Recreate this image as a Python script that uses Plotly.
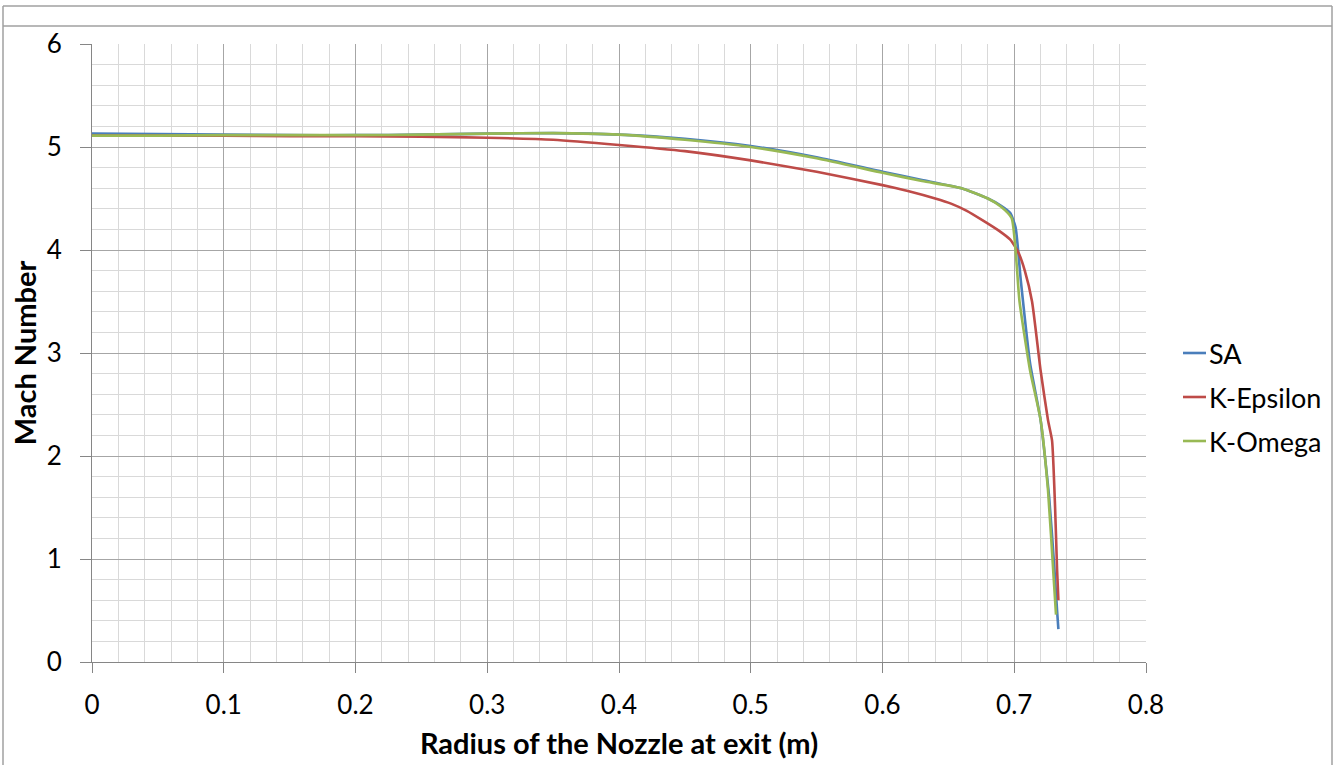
import plotly.graph_objects as go

sa_x = [0, 0.05, 0.1, 0.15, 0.2, 0.25, 0.3, 0.35, 0.4, 0.45, 0.5, 0.55, 0.6, 0.63, 0.66,
        0.68, 0.69, 0.697, 0.701, 0.705, 0.712, 0.72, 0.7265, 0.7305, 0.7325, 0.7335]
sa_y = [5.13, 5.125, 5.12, 5.115, 5.115, 5.12, 5.13, 5.135, 5.12, 5.08, 5.01, 4.9, 4.76, 4.68, 4.6,
        4.5, 4.43, 4.36, 4.22, 3.7, 2.9, 2.35, 1.6, 0.9, 0.5, 0.32]

ke_x = [0, 0.05, 0.1, 0.15, 0.2, 0.25, 0.3, 0.35, 0.4, 0.45, 0.5, 0.55, 0.6, 0.62, 0.64, 0.652,
        0.664, 0.677, 0.688, 0.697, 0.703, 0.708, 0.7135, 0.72, 0.7256, 0.7287, 0.731, 0.7325, 0.7335]
ke_y = [5.11, 5.11, 5.11, 5.105, 5.105, 5.1, 5.09, 5.07, 5.02, 4.96, 4.87, 4.76, 4.63, 4.57, 4.5, 4.45,
        4.38, 4.28, 4.19, 4.1, 3.98, 3.8, 3.5, 2.83, 2.35, 2.15, 1.5, 0.9, 0.6]

ko_x = [0, 0.05, 0.1, 0.15, 0.2, 0.25, 0.3, 0.35, 0.4, 0.45, 0.5, 0.55, 0.6, 0.63, 0.66,
        0.68, 0.69, 0.698, 0.704, 0.712, 0.72, 0.7256, 0.73, 0.7317]
ko_y = [5.11, 5.11, 5.115, 5.115, 5.115, 5.12, 5.13, 5.135, 5.12, 5.07, 5.0, 4.89, 4.75, 4.67, 4.6,
        4.5, 4.42, 4.31, 3.5, 2.83, 2.35, 1.67, 0.8, 0.46]

x_ticks = [0, 0.1, 0.2, 0.3, 0.4, 0.5, 0.6, 0.7, 0.8]
x_tick_labels = ["0", "0.1", "0.2", "0.3", "0.4", "0.5", "0.6", "0.7", "0.8"]
y_ticks = [0, 1, 2, 3, 4, 5, 6]

series = [("SA", sa_x, sa_y, "#4A7EBB"),
          ("K-Epsilon", ke_x, ke_y, "#BE4B48"),
          ("K-Omega", ko_x, ko_y, "#98B954")]

FONT = "Lato, Open Sans, sans-serif"

W, H = 1334, 765
L, R, T, B = 92, 1146, 44, 662

def px(x):
    return (x - L) / (R - L)

def py(y):
    return (B - y) / (B - T)

GRID = "#A6A6A6"
MINOR = "#D9D9D9"
AX = "#868686"
BORDER = "#A0A0A0"

fig = go.Figure()
shapes = [
    dict(type="line", xref="paper", yref="paper", x0=px(3), x1=px(3), y0=py(6), y1=py(770),
         line=dict(color=BORDER, width=1.5)),
    dict(type="line", xref="paper", yref="paper", x0=px(1332), x1=px(1332), y0=py(6), y1=py(770),
         line=dict(color=BORDER, width=1.5)),
    dict(type="line", xref="paper", yref="paper", x0=px(3), x1=px(1332), y0=py(6), y1=py(6),
         line=dict(color=BORDER, width=1.5)),
    dict(type="line", xref="paper", yref="paper", x0=px(3), x1=px(1332), y0=py(26), y1=py(26),
         line=dict(color=BORDER, width=1.5)),
]
annotations = []
legend_y = [353, 397, 441]
for (name, xs, ys, col), ly in zip(series, legend_y):
    fig.add_trace(go.Scatter(x=xs, y=ys, mode="lines", name=name, showlegend=False,
                             line=dict(color=col, width=2.6, shape="spline", smoothing=0.5)))
    shapes.append(dict(type="line", xref="paper", yref="paper",
                       x0=px(1183), x1=px(1206), y0=py(ly), y1=py(ly),
                       line=dict(color=col, width=2.6)))
    annotations.append(dict(xref="paper", yref="paper", x=px(1207), y=py(ly),
                            xanchor="left", yanchor="middle", showarrow=False,
                            text=name, font=dict(size=27, family=FONT, color="#000000")))

fig.update_layout(
    width=W, height=H, autosize=False,
    margin=dict(l=L, r=W - R, t=T, b=H - B),
    paper_bgcolor="white", plot_bgcolor="white",
    font=dict(family=FONT, size=26, color="#000000"),
    showlegend=False,
    xaxis=dict(range=[0, 0.8], tickvals=x_ticks, ticktext=x_tick_labels,
               showgrid=True, gridcolor=GRID, gridwidth=1,
               minor=dict(dtick=0.02, tick0=0, showgrid=True, gridcolor=MINOR, gridwidth=1),
               showline=True, linecolor=AX, linewidth=1,
               ticks="outside", ticklen=10, tickcolor=AX,
               ticklabelstandoff=10, zeroline=False, automargin=False,
               tickfont=dict(size=26, family=FONT),
               title=dict(text="<b>Radius of the Nozzle at exit (m)</b>",
                          font=dict(size=29, family=FONT), standoff=14)),
    yaxis=dict(range=[0, 6], tickvals=y_ticks,
               showgrid=True, gridcolor=GRID, gridwidth=1,
               minor=dict(dtick=0.2, tick0=0, showgrid=True, gridcolor=MINOR, gridwidth=1),
               showline=True, linecolor=AX, linewidth=1,
               ticks="outside", ticklen=11, tickcolor=AX,
               ticklabelstandoff=13, zeroline=False, automargin=False,
               tickfont=dict(size=26, family=FONT),
               title=dict(text="<b>Mach Number</b>",
                          font=dict(size=29, family=FONT), standoff=1)),
    shapes=shapes,
    annotations=annotations,
)

fig.write_html("out.html",
               config={"displayModeBar": False, "responsive": False},
               post_script="document.body.style.margin='0';document.body.style.padding='0';")
